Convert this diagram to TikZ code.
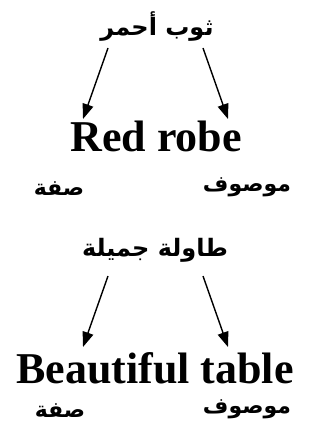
\documentclass[tikz,border=0pt]{standalone}
\usepackage{fontspec}
\setmainfont{Liberation Serif}
\newfontfamily\arabicfont[Script=Arabic]{DejaVu Sans}
\TeXXeTstate=1
\usetikzlibrary{arrows.meta}
\tikzset{
  ar/.style={font=\arabicfont\bfseries\fontsize{22}{26}\selectfont, inner sep=0pt},
  art/.style={font=\arabicfont\bfseries\fontsize{24}{28}\selectfont, inner sep=0pt},
  en/.style={font=\bfseries\fontsize{44}{50}\selectfont, inner sep=0pt, anchor=base},
  arr/.style={line width=1.4pt, -{Triangle[length=15pt,width=11pt]}}
}
\begin{document}
\begin{tikzpicture}[x=1pt,y=-1pt]
\useasboundingbox (0,0) rectangle (322,443);
% top group
\node[art] (t1) at (157,27) {\beginR ثوب أحمر\endR};
\node[en] (e1) at (156,152) {Red robe};
\node[ar] (s1) at (59,189) {\beginR صفة\endR};
\node[ar] (m1) at (247,187) {\beginR موصوف\endR};
\coordinate (a1) at (108,48);
\coordinate (b1) at (83,119);
\coordinate (c1) at (203,48);
\coordinate (d1) at (228,119);
\draw[arr] (a1) -- (b1);
\draw[arr] (c1) -- (d1);
% bottom group
\node[art] (t2) at (155,250) {\beginR طاولة جميلة\endR};
\node[en] (e2) at (155,383) {Beautiful table};
\node[ar] (s2) at (60,411) {\beginR صفة\endR};
\node[ar] (m2) at (247,409) {\beginR موصوف\endR};
\coordinate (a2) at (108,276);
\coordinate (b2) at (83,347);
\coordinate (c2) at (203,276);
\coordinate (d2) at (228,347);
\draw[arr] (a2) -- (b2);
\draw[arr] (c2) -- (d2);
\end{tikzpicture}
\end{document}
